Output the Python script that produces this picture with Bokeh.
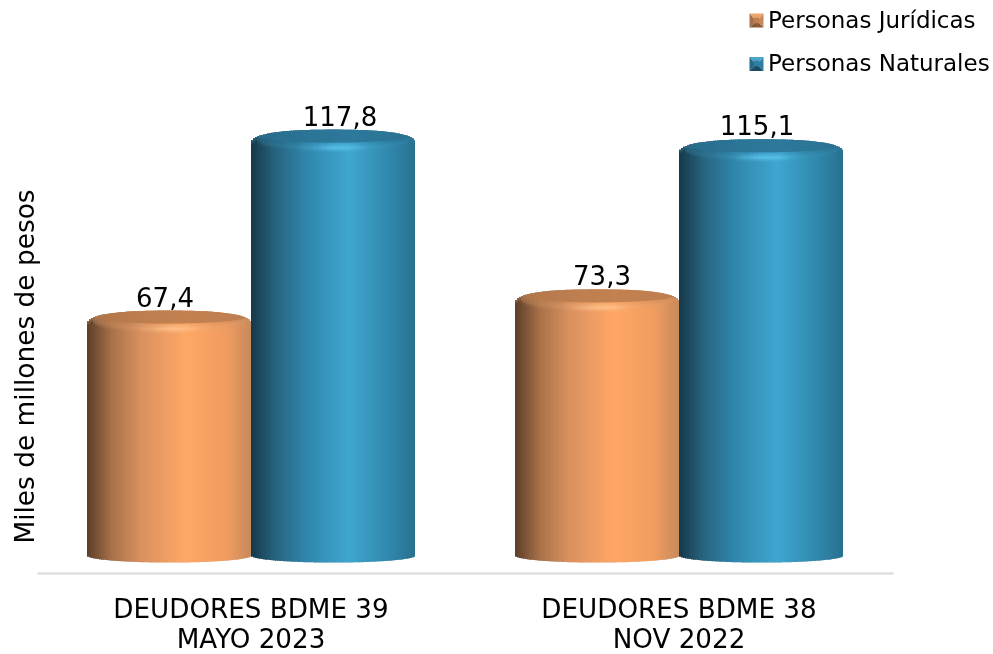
import numpy as np
from bokeh.plotting import figure
from bokeh.models import (ColumnDataSource, Range1d, FixedTicker, Legend, LegendItem,
                          LinearAxis, Label)
from bokeh.core.properties import value
from bokeh.embed import file_html
from bokeh.resources import INLINE

groups = ["DEUDORES BDME 39\nMAYO 2023", "DEUDORES BDME 38\nNOV 2022"]
series_names = ["Personas Jurídicas", "Personas Naturales"]
juridicas = [67.4, 73.3]
naturales = [117.8, 115.1]
labels_j = ["67,4", "73,3"]
labels_n = ["117,8", "115,1"]
y_title = "Miles de millones de pesos"

FONT = "DejaVu Sans"
W, H = 993, 654
AXIS_L, F_B = 37, 573
PPU = 3.59
PPX = 428.0
X0 = (0.5 - AXIS_L) / PPX
Y0 = -2.785
X1 = X0 + W / PPX
Y1 = Y0 + F_B / PPU
BAR_W = 164 / PPX
BASE_V = 2.2
N = 82

stops = [0, .15, .33, .6, .85, 1]
orange = dict(body=["#5c3d28", "#a87148", "#d9915f", "#ffa766", "#f09c60", "#c68a5c"],
              light="#ffcc98", cap="#b87a4c", rim="#c98a5a",
              sw=["#eda36c", "#c9895a", "#a8704a", "#8a5a38", "#c07f50"])
blue = dict(body=["#16384a", "#27647f", "#2f85ab", "#3fa6d0", "#3087ac", "#286f8f"],
            light="#62ccf4", cap="#2a7192", rim="#2a7592",
            sw=["#4aa6cc", "#2f7fa3", "#26688a", "#1a4c66", "#2f7fa3"])


def rgb(h):
    return np.array([int(h[i:i + 2], 16) for i in (1, 3, 5)], float)


def to_hex(c):
    return "#%02x%02x%02x" % tuple(int(round(min(max(a, 0), 255))) for a in c)


def mix(a, b, t):
    return a + (b - a) * t


def dx(px):
    return X0 + px / PPX


def dy(py):
    return Y0 + (F_B - py) / PPU


p = figure(width=W, height=H, output_backend="svg", toolbar_location=None,
           x_range=Range1d(X0, X1), y_range=Range1d(Y0, Y1),
           min_border_left=0, min_border_right=0,
           min_border_top=0, min_border_bottom=H - F_B,
           frame_width=W, frame_height=F_B,
           x_axis_location=None, y_axis_location=None,
           outline_line_color=None)
p.styles = {"position": "fixed", "left": "0", "top": "0"}
p.grid.visible = False

xaxis = LinearAxis(ticker=FixedTicker(ticks=[0.5, 1.5]), bounds=(dx(AXIS_L), dx(893)),
                   major_label_overrides={0.5: groups[0], 1.5: groups[1]},
                   major_label_text_font=FONT, major_label_text_font_size="26.2px",
                   major_label_text_color="#000000", major_label_standoff=14,
                   major_label_text_line_height=1.0,
                   axis_line_color="#d9d9d9", axis_line_width=2,
                   major_tick_line_color=None, minor_tick_line_color=None)
p.add_layout(xaxis, "below")

p.add_layout(Label(x=24, y=F_B - 366, x_units="screen", y_units="screen", text=y_title,
                   angle=np.pi / 2, text_font=FONT, text_font_size="26.4px", text_color="#000000",
                   text_align="center", text_baseline="middle"))


def cylinder(center, val, pal):
    edges = np.linspace(-1, 1, N + 1)
    u = (edges[:-1] + edges[1:]) / 2
    half = BAR_W / 2
    step = 2 * half / N
    left = center + edges[:-1] * half
    right = center + edges[1:] * half + 0.4 * step
    right[-1] = center + half
    stop_rgb = np.array([rgb(c) for c in pal["body"]])
    frac = (u + 1) / 2
    body = np.stack([np.interp(frac, stops, stop_rgb[:, i]) for i in range(3)], axis=1)
    light = rgb(pal["light"])
    cap = rgb(pal["cap"])
    rim = rgb(pal["rim"])

    L, R, T, B, C = [], [], [], [], []

    def add(l, r, t, b, c):
        L.append(l); R.append(r); T.append(t); B.append(b); C.append(to_hex(c))

    sil = 14 * (1 - np.abs(u) ** 2.5) ** 0.4 - 3
    w = np.sqrt(np.clip(1 - (u / 0.93) ** 2, 0, 1))
    bottom = 7 * np.sqrt(1 - u ** 2)
    for i in range(N):
        add(left[i], right[i], val + sil[i] / PPU, BASE_V - bottom[i] / PPU, body[i])
    for i in range(N):
        dbot = min(4.5 - 6.5 * w[i], sil[i])
        band = 4 + 6 * w[i] ** 0.5
        gain = np.exp(-(u[i] - 0.05) ** 2 / (2 * 0.2 ** 2))
        edge = min(abs(u[i]) * 1.1, 1)
        start = sil[i] if w[i] <= 0 else dbot
        steps = 10
        for s in range(steps):
            t = (s + 0.5) / steps
            prof = t / 0.55 if t < 0.55 else (1 - t) / 0.45
            col = mix(body[i], rim, (1 - t) * edge * 0.75)
            col = mix(col, light, prof * (0.12 + 0.88 * gain) * 0.85)
            y_hi = start - (start - (dbot - band)) * s / steps
            y_lo = start - (start - (dbot - band)) * (s + 1) / steps
            add(left[i], right[i], val + y_hi / PPU, val + y_lo / PPU, col)
        if w[i] > 0:
            dtop = min(4.5 + 6.5 * w[i], sil[i])
            cc = mix(cap, body[i], 0.15)
            add(left[i], right[i], val + dtop / PPU, val + dbot / PPU, cc)
    src = ColumnDataSource(dict(left=L, right=R, top=T, bottom=B, color=C))
    p.quad(left="left", right="right", top="top", bottom="bottom", source=src,
           fill_color="color", line_color=None)


gx = [0.5, 1.5]
for k in range(2):
    cylinder(gx[k] - BAR_W / 2, juridicas[k], orange)
    cylinder(gx[k] + BAR_W / 2, naturales[k], blue)

offsets_j = [-4, 5]
offsets_n = [7, -4]
lx, ly, lt, lo = [], [], [], []
for k in range(2):
    lx += [gx[k] - BAR_W / 2, gx[k] + BAR_W / 2]
    ly += [juridicas[k], naturales[k]]
    lt += [labels_j[k], labels_n[k]]
    lo += [offsets_j[k], offsets_n[k]]
p.text(x="x", y="y", text="t", x_offset="o", y_offset=-25,
       source=ColumnDataSource(dict(x=lx, y=ly, t=lt, o=lo)),
       text_font=value(FONT), text_font_size="26px", text_color="#000000",
       text_align="center", text_baseline="alphabetic")

sw1 = p.scatter(x=[float("nan")], y=[float("nan")], marker="square", size=14,
                fill_color=orange["sw"][4], line_color=None)
sw2 = p.scatter(x=[float("nan")], y=[float("nan")], marker="square", size=14,
                fill_color=blue["sw"][4], line_color=None)
legend = Legend(items=[LegendItem(label=value(series_names[0]), renderers=[sw1], index=0),
                       LegendItem(label=value(series_names[1]), renderers=[sw2], index=0)],
                location=(749, 496), orientation="vertical",
                border_line_color=None, background_fill_alpha=0,
                label_text_font=FONT, label_text_font_size="23px", label_text_color="#000000",
                glyph_width=14, glyph_height=14, label_standoff=5, spacing=14,
                padding=0, margin=0, label_height=29)
p.add_layout(legend, "center")

# bevelled look of the legend keys
xs, ys, cs = [], [], []
for pal, cy_px in ((orange, 20), (blue, 63.5)):
    l, r, t, b = 749, 763, cy_px - 7, cy_px + 7
    il, ir, it, ib = l + 6, r - 6, t + 7, b - 6
    faces = [[(l, t), (r, t), (ir, it), (il, it)],
             [(r, t), (r, b), (ir, ib), (ir, it)],
             [(l, t), (l, b), (il, ib), (il, it)],
             [(l, b), (r, b), (ir, ib), (il, ib)],
             [(il, it), (ir, it), (ir, ib), (il, ib)]]
    order = [pal["sw"][0], pal["sw"][1], pal["sw"][2], pal["sw"][3], pal["sw"][1]]
    for f, c in zip(faces, order):
        xs.append([dx(q[0]) for q in f])
        ys.append([dy(q[1]) for q in f])
        cs.append(c)
p.patches(xs="xs", ys="ys", fill_color="c", line_color=None, level="overlay",
          source=ColumnDataSource(dict(xs=xs, ys=ys, c=cs)))

out = open("out.html", "w")
out.write(file_html(p, INLINE))
out.close()
